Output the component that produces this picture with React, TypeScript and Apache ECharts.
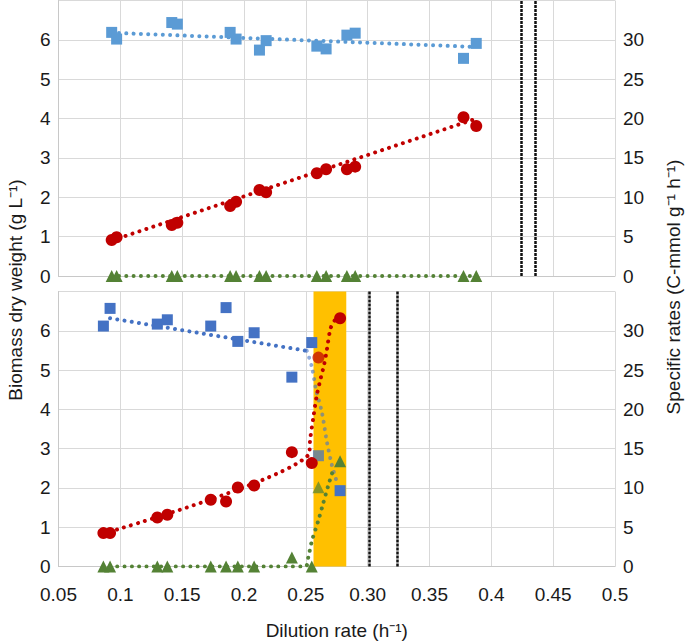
import React, { useEffect, useRef } from "react";
import * as echarts from "echarts";

// ---------- data ----------
const xTickLabels = ["0.05", "0.1", "0.15", "0.2", "0.25", "0.30", "0.35", "0.4", "0.45", "0.5"];

// Top panel
const topD = [0.093, 0.097, 0.1416, 0.1461, 0.1888, 0.1936, 0.2125, 0.2179, 0.2589, 0.2664, 0.2832, 0.2899, 0.3775, 0.3878];
const topBiomass = [6.19, 6.02, 6.44, 6.4, 6.19, 6.02, 5.74, 5.98, 5.84, 5.77, 6.12, 6.17, 5.53, 5.91];
const topUptake = [4.57, 4.92, 6.48, 6.77, 8.89, 9.44, 10.93, 10.63, 13.05, 13.56, 13.56, 13.89, 20.17, 19.06];
const topOverflow = [0, 0, 0, 0, 0, 0, 0, 0, 0, 0, 0, 0, 0, 0];
const topBiomassTrendX = [0.093, 0.388];
const topBiomassTrendY = [6.18, 5.82];
const topUptakeTrendX = [0.093, 0.388];
const topUptakeTrendY = [4.5, 20.0];
const topOverflowTrendX = [0.093, 0.388];
const topOverflowTrendY = [0, 0];
const topVLines = [0.4239, 0.4357];

// Bottom panel
const botD = [0.0863, 0.0917, 0.1299, 0.138, 0.1731, 0.1855, 0.195, 0.2082, 0.2387, 0.2548, 0.2602, 0.2777];
const botBiomass = [6.12, 6.57, 6.17, 6.28, 6.12, 6.59, 5.73, 5.95, 4.82, 5.7, 2.82, 1.93];
const botUptake = [4.25, 4.25, 6.23, 6.58, 8.49, 8.27, 10.05, 10.31, 14.55, 13.16, 26.59, 31.6];
const botOverflow = [0, 0, 0, 0, 0, 0, 0, 0, 1.15, 0, 10.1, 13.4];
const botBiomassTrendX = [0.0917, 0.2508];
const botBiomassTrendY = [6.32, 5.49];
const botBiomassDropX = [0.2508, 0.2548, 0.2583, 0.2629, 0.267, 0.271, 0.2745];
const botBiomassDropY = [5.49, 5.09, 4.5, 3.94, 3.18, 2.59, 2.21];
const botUptakeTrendX = [0.0917, 0.2521, 0.2535, 0.2562, 0.2589, 0.2621, 0.2648, 0.267, 0.2702, 0.2745];
const botUptakeTrendY = [4.45, 14.2, 16.2, 19.1, 21.8, 24.0, 25.7, 27.6, 30.4, 31.6];
const botOverflowTrendX = [0.0917, 0.2494, 0.2521, 0.2548, 0.2602, 0.2637, 0.2683, 0.2723];
const botOverflowTrendY = [0, 0, 1.27, 3.2, 5.9, 7.85, 10.4, 12.4];
const botVLines = [0.3014, 0.3236];
const botBand = [0.2562, 0.2827];
const transitionIndex = 10;

// ---------- styles ----------
const FONT = "'Liberation Sans', Arial, Helvetica, sans-serif";
const BLUE_TOP = "#5B9BD5";
const BLUE_BOT = "#4472C4";
const RED = "#C00000";
const GREEN = "#548235";
const GRID = "#D9D9D9";

const pairs = (xs: number[], ys: number[]) => xs.map((x, i) => [x, ys[i]]);

export default function App() {
  const ref = useRef<HTMLDivElement>(null);
  useEffect(() => {
    if (!ref.current) return;
    const chart = echarts.init(ref.current, null, { renderer: "svg" });

    const dotted = (color: string, opacity = 1) => ({
      color,
      width: 4,
      type: [0.01, 7.3],
      cap: "round",
      opacity,
    });

    const scatter = (
      name: string,
      xi: number,
      yi: number,
      xs: number[],
      ys: number[],
      symbol: string,
      size: number,
      color: string,
      fadeIdx = -1
    ) => ({
      name,
      type: "scatter",
      xAxisIndex: xi,
      yAxisIndex: yi,
      symbol,
      symbolSize: size,
      z: 5,
      itemStyle: { color, opacity: 1 },
      data: xs.map((x, i) =>
        i === fadeIdx ? { value: [x, ys[i]], itemStyle: { opacity: 0.72 } } : [x, ys[i]]
      ),
    });

    const trend = (
      name: string,
      xi: number,
      yi: number,
      xs: number[],
      ys: number[],
      color: string,
      opacity = 1,
      smooth: number | boolean = false
    ) => ({
      name,
      type: "line",
      xAxisIndex: xi,
      yAxisIndex: yi,
      showSymbol: false,
      symbol: "none",
      smooth,
      z: 4,
      lineStyle: dotted(color, opacity),
      data: pairs(xs, ys),
    });

    const vlineMark = (vals: number[]) => ({
      silent: true,
      precision: 6,
      symbol: ["none", "none"],
      label: { show: false },
      lineStyle: { color: "#111", width: 2.5, type: [3, 1], opacity: 1 },
      data: vals.map((v) => ({ xAxis: v })),
    });

    const xAxisBase = (gridIndex: number, showLabels: boolean) => ({
      type: "value",
      gridIndex,
      min: 0.05,
      max: 0.5,
      interval: 0.05,
      axisLine: { show: true, lineStyle: { color: "#C8C8C8", width: 1 } },
      axisTick: { show: false },
      splitLine: { show: true, lineStyle: { color: GRID, width: 1 } },
      axisLabel: {
        show: showLabels,
        margin: 18,
        fontSize: 19,
        color: "#1a1a1a",
        fontFamily: FONT,
        formatter: (v: number) => {
          const idx = Math.round((v - 0.05) / 0.05);
          return xTickLabels[idx] ?? "";
        },
      },
    });

    const leftY = (gridIndex: number) => ({
      type: "value",
      gridIndex,
      position: "left",
      min: 0,
      max: 7,
      interval: 1,
      axisLine: { show: true, lineStyle: { color: "#C8C8C8", width: 1 } },
      axisTick: { show: false },
      splitLine: { show: true, lineStyle: { color: GRID, width: 1 } },
      axisLabel: {
        showMaxLabel: false,
        margin: 8,
        fontSize: 19,
        color: "#1a1a1a",
        fontFamily: FONT,
      },
    });

    const rightY = (gridIndex: number) => ({
      type: "value",
      gridIndex,
      position: "right",
      min: 0,
      max: 35,
      interval: 5,
      axisLine: { show: false },
      axisTick: { show: false },
      splitLine: { show: false },
      axisLabel: {
        showMaxLabel: false,
        margin: 8,
        fontSize: 19,
        color: "#1a1a1a",
        fontFamily: FONT,
      },
    });

    const option = {
      animation: false,
      textStyle: { fontFamily: FONT },
      grid: [
        { left: 58.5, right: 70, top: 0.5, height: 275.5 },
        { left: 58.5, right: 70, top: 291.5, height: 275 },
      ],
      xAxis: [
        xAxisBase(0, false),
        {
          ...xAxisBase(1, true),
          name: "Dilution rate (h\u207B\u00B9)",
          nameLocation: "middle",
          nameGap: 54,
          nameTextStyle: { fontSize: 19, color: "#1a1a1a", fontFamily: FONT },
        },
      ],
      yAxis: [leftY(0), rightY(0), leftY(1), rightY(1)],
      graphic: [
        {
          type: "text",
          x: 15,
          y: 290,
          rotation: Math.PI / 2,
          style: {
            text: "Biomass dry weight (g L\u207B\u00B9)",
            fontSize: 19,
            fontFamily: FONT,
            fill: "#1a1a1a",
            textAlign: "center",
            textVerticalAlign: "middle",
          },
        },
        {
          type: "text",
          x: 673,
          y: 287,
          rotation: Math.PI / 2,
          style: {
            text: "Specific rates (C-mmol g\u207B\u00B9 h\u207B\u00B9)",
            fontSize: 19,
            fontFamily: FONT,
            fill: "#1a1a1a",
            textAlign: "center",
            textVerticalAlign: "middle",
          },
        },
      ],
      series: [
        // ----- top panel -----
        {
          name: "topVLines",
          type: "line",
          xAxisIndex: 0,
          yAxisIndex: 0,
          data: [],
          z: 3,
          markLine: vlineMark(topVLines),
        },
        trend("topBiomassTrend", 0, 0, topBiomassTrendX, topBiomassTrendY, BLUE_TOP),
        trend("topUptakeTrend", 0, 1, topUptakeTrendX, topUptakeTrendY, RED),
        trend("topOverflowTrend", 0, 1, topOverflowTrendX, topOverflowTrendY, GREEN),
        scatter("topBiomass", 0, 0, topD, topBiomass, "rect", 11, BLUE_TOP),
        scatter("topUptake", 0, 1, topD, topUptake, "circle", 12, RED),
        scatter("topOverflow", 0, 1, topD, topOverflow, "triangle", 12, GREEN),

        // ----- bottom panel -----
        {
          name: "botBand",
          type: "line",
          xAxisIndex: 1,
          yAxisIndex: 2,
          data: [],
          z: 1,
          markArea: {
            silent: true,
            precision: 6,
            itemStyle: { color: "#FFC000", opacity: 1 },
            data: [[{ xAxis: botBand[0] }, { xAxis: botBand[1] }]],
          },
          markLine: vlineMark(botVLines),
        },
        trend("botBiomassTrend", 1, 2, botBiomassTrendX, botBiomassTrendY, BLUE_BOT),
        trend("botBiomassDrop", 1, 2, botBiomassDropX, botBiomassDropY, BLUE_BOT, 0.6, 0.3),
        trend("botUptakeTrend", 1, 3, botUptakeTrendX, botUptakeTrendY, RED, 1, 0.3),
        trend("botOverflowTrend", 1, 3, botOverflowTrendX, botOverflowTrendY, GREEN, 1, 0.3),
        scatter("botBiomass", 1, 2, botD, botBiomass, "rect", 11, BLUE_BOT, transitionIndex),
        scatter("botUptake", 1, 3, botD, botUptake, "circle", 12, RED, transitionIndex),
        scatter("botOverflow", 1, 3, botD, botOverflow, "triangle", 12, GREEN, transitionIndex),
      ],
    };

    chart.setOption(option as any);
    return () => chart.dispose();
  }, []);

  return (
    <div
      ref={ref}
      style={{ position: "fixed", left: 0, top: 0, width: 685, height: 644, background: "#fff" }}
    />
  );
}
